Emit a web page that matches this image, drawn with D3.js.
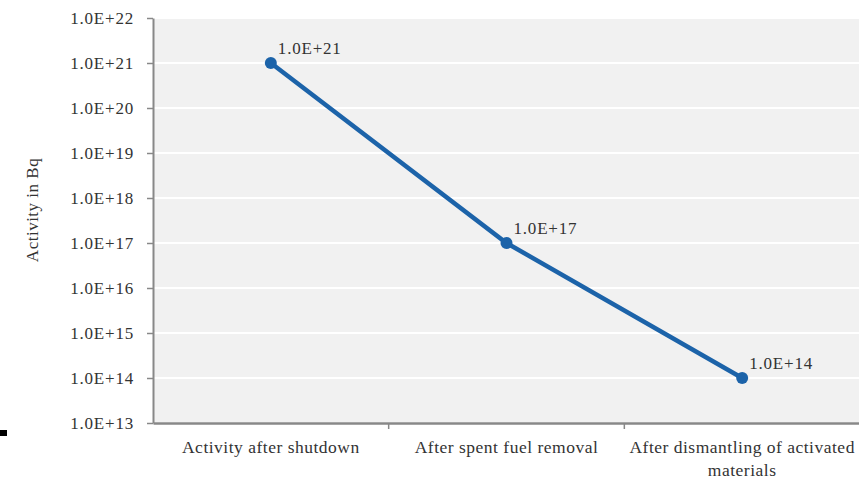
<!DOCTYPE html>
<html>
<head>
<meta charset="utf-8">
<script src="https://cdn.jsdelivr.net/npm/d3@7"></script>
<style>
  body { margin: 0; background: #fff; }
  svg text { font-family: "Liberation Serif", "DejaVu Serif", serif; fill: #333; }
</style>
</head>
<body>
<div class="chart"></div>
<script>
// Data
const stages = ["Activity after shutdown", "After spent fuel removal", "After dismantling of activated materials"];
const activity = [1e21, 1e17, 1e14];
const pointLabels = ["1.0E+21", "1.0E+17", "1.0E+14"];
const yTicks = [1e13, 1e14, 1e15, 1e16, 1e17, 1e18, 1e19, 1e20, 1e21, 1e22];

const width = 859, height = 483;
const margin = {top: 18, right: -1, bottom: 60, left: 153};

const svg = d3.select(".chart")
    .append("svg")
    .attr("width", width)
    .attr("height", height);

const x = d3.scaleBand()
    .domain(stages)
    .range([margin.left, width - margin.right]);

const y = d3.scaleLog()
    .domain([1e13, 1e22])
    .range([height - margin.bottom, margin.top]);

// plot background
svg.append("rect")
    .attr("x", margin.left)
    .attr("y", y(1e22))
    .attr("width", width - margin.left)
    .attr("height", y(1e13) - y(1e22))
    .attr("fill", "#f1f1f1");

// gridlines
svg.append("g")
    .selectAll("line")
    .data(yTicks)
    .enter()
    .append("line")
    .attr("x1", margin.left)
    .attr("x2", width)
    .attr("y1", d => y(d))
    .attr("y2", d => y(d))
    .attr("stroke", "#fff")
    .attr("stroke-width", 2);

const fmt = d => "1.0E+" + Math.round(Math.log10(d));

// y axis
const yAxis = svg.append("g")
    .attr("transform", "translate(" + margin.left + ",0)")
    .call(d3.axisLeft(y).tickValues(yTicks).tickFormat(fmt).tickSize(6).tickPadding(13).tickSizeOuter(0));
yAxis.select(".domain").attr("stroke", "#888").attr("stroke-width", 2);
yAxis.selectAll(".tick line").attr("stroke", "#888").attr("stroke-width", 1.5);
yAxis.selectAll("text")
    .style("font-size", "17px")
    .style("letter-spacing", "0.8px")
    .style("font-family", "'Liberation Serif', serif")
    .attr("fill", "#333");

// x axis
const xAxis = svg.append("g")
    .attr("transform", "translate(0," + y(1e13) + ")")
    .call(d3.axisBottom(x).tickSize(0).tickPadding(18).tickSizeOuter(0));
xAxis.select(".domain").attr("stroke", "#888").attr("stroke-width", 2.5);
xAxis.selectAll("text")
    .style("font-size", "17.5px")
    .style("letter-spacing", "0.5px")
    .style("font-family", "'Liberation Serif', serif")
    .attr("fill", "#333")
    .each(function(d) {
        // wrap long labels
        const t = d3.select(this);
        if (d.length > 30) {
            const words = d.split(" ");
            const first = words.slice(0, 4).join(" ");
            const second = words.slice(4).join(" ");
            t.text(null);
            t.append("tspan").attr("x", 0).attr("dy", "0.71em").text(first);
            t.append("tspan").attr("x", 0).attr("dy", "1.3em").text(second);
            t.attr("dy", null);
        }
    });

// category boundary ticks
svg.append("g")
    .selectAll("line")
    .data(stages.slice(1))
    .enter()
    .append("line")
    .attr("x1", d => x(d))
    .attr("x2", d => x(d))
    .attr("y1", y(1e13))
    .attr("y2", y(1e13) + 6)
    .attr("stroke", "#888")
    .attr("stroke-width", 1.5);

// y title
svg.append("text")
    .attr("transform", "translate(38," + (y(1e18) + 12) + ") rotate(-90)")
    .attr("text-anchor", "middle")
    .style("font-size", "17px")
    .style("letter-spacing", "0.5px")
    .attr("fill", "#333")
    .text("Activity in Bq");

// line
const pts = stages.map((s, i) => ({stage: s, value: activity[i], label: pointLabels[i]}));
const line = d3.line()
    .x(d => x(d.stage) + x.bandwidth() / 2)
    .y(d => y(d.value));

svg.append("path")
    .datum(pts)
    .attr("d", line)
    .attr("fill", "none")
    .attr("stroke", "#1c63a9")
    .attr("stroke-width", 4.5);

svg.selectAll("dot")
    .data(pts)
    .enter()
    .append("circle")
    .attr("cx", d => x(d.stage) + x.bandwidth() / 2)
    .attr("cy", d => y(d.value))
    .attr("r", 6)
    .attr("fill", "#1c63a9");

svg.selectAll("plabel")
    .data(pts)
    .enter()
    .append("text")
    .attr("x", d => x(d.stage) + x.bandwidth() / 2 + 7)
    .attr("y", d => y(d.value) - 9)
    .style("font-size", "17px")
    .style("letter-spacing", "0.8px")
    .attr("fill", "#333")
    .text(d => d.label);

// small black mark at left edge
svg.append("rect")
    .attr("x", 0).attr("y", 430).attr("width", 7).attr("height", 6)
    .attr("fill", "#000");
</script>
</body>
</html>
